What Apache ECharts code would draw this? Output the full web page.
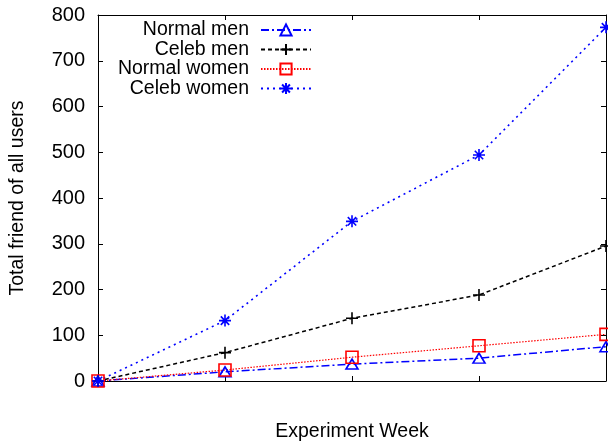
<!DOCTYPE html>
<html>
<head>
<meta charset="utf-8">
<script src="https://cdn.jsdelivr.net/npm/echarts@6/dist/echarts.min.js"></script>
<style>html,body{margin:0;padding:0;background:#fff}#c{width:608px;height:443px}</style>
</head>
<body>
<div id="c"></div>
<script>
var weeks = [0, 1, 2, 3, 4];
var normalMen = [0, 20, 37, 50, 75];
var celebMen = [0, 62, 137, 188, 295];
var normalWomen = [0, 24, 52, 77, 102];
var celebWomen = [0, 132, 349, 494, 773];
var yTicks = [0, 100, 200, 300, 400, 500, 600, 700, 800];

function pairs(vals) { return weeks.map(function (w, i) { return [w, vals[i]]; }); }

var FONT = 'Liberation Sans, Arial, Helvetica, sans-serif';
var BLUE = '#0000ff', RED = '#ff0000', BLACK = '#000000';
var PLUS = 'path://M0,5L10,5M5,0L5,10';
var STAR = 'path://M0,5L10,5M5,0L5,10M1.5,1.5L8.5,8.5M8.5,1.5L1.5,8.5';

var names = ['Normal men', 'Celeb men', 'Normal women', 'Celeb women'];
var legendCenters = [30, 49.5, 69, 88.5];

var chart = echarts.init(document.getElementById('c'), null, {renderer: 'canvas'});

function axisCommon(extra) {
  var base = {
    axisLine: {show: true, onZero: false, lineStyle: {color: BLACK, width: 1}},
    axisTick: {show: true, inside: true, length: 5, lineStyle: {color: BLACK, width: 1}},
    splitLine: {show: false}
  };
  for (var k in extra) base[k] = extra[k];
  return base;
}

var option = {
  animation: false,
  backgroundColor: '#fff',
  textStyle: {fontFamily: FONT},
  grid: {left: 98, right: 2, top: 15, bottom: 62, containLabel: false, outerBoundsMode: 'none'},
  legend: names.map(function (n, i) {
    return {
      data: [n], orient: 'vertical', align: 'right', right: 296, top: legendCenters[i] - 10,
      padding: 0, itemWidth: 50, itemHeight: 14, selectedMode: false,
      textStyle: {fontFamily: FONT, fontSize: 19.5, color: BLACK, padding: [0, 7, 0, 0], lineHeight: 20}
    };
  }),
  xAxis: [
    axisCommon({type: 'value', min: 0, max: 4, interval: 1, position: 'bottom',
      axisLabel: {show: false},
      name: 'Experiment Week', nameLocation: 'middle', nameGap: 41,
      nameTextStyle: {fontFamily: FONT, fontSize: 19.5, color: BLACK}}),
    axisCommon({type: 'value', min: 0, max: 4, interval: 1, position: 'top', axisLabel: {show: false}})
  ],
  yAxis: [
    axisCommon({type: 'value', min: yTicks[0], max: yTicks[yTicks.length - 1], interval: 100, position: 'left',
      axisLabel: {show: true, margin: 13, fontFamily: FONT, fontSize: 20, color: BLACK},
      name: 'Total friend of all users', nameLocation: 'middle', nameGap: 70,
      nameTextStyle: {fontFamily: FONT, fontSize: 19.5, color: BLACK}}),
    axisCommon({type: 'value', min: yTicks[0], max: yTicks[yTicks.length - 1], interval: 100, position: 'right',
      axisLabel: {show: false}})
  ],
  series: [
    {
      name: names[0], type: 'line', data: pairs(normalMen),
      symbol: 'triangle', symbolSize: [12, 10],
      itemStyle: {color: 'rgba(255,255,255,0)', borderColor: BLUE, borderWidth: 1.6},
      lineStyle: {color: BLUE, width: 1.5, type: [8, 3, 2, 3]}
    },
    {
      name: names[1], type: 'line', data: pairs(celebMen),
      symbol: PLUS, symbolSize: 12,
      itemStyle: {color: BLACK, borderColor: BLACK, borderWidth: 1.6},
      lineStyle: {color: BLACK, width: 1.5, type: [4, 3]}
    },
    {
      name: names[2], type: 'line', data: pairs(normalWomen),
      symbol: 'rect', symbolSize: 12,
      itemStyle: {color: 'rgba(255,255,255,0)', borderColor: RED, borderWidth: 1.6},
      lineStyle: {color: RED, width: 1.2, type: [1.5, 1.5]}
    },
    {
      name: names[3], type: 'line', data: pairs(celebWomen),
      symbol: STAR, symbolSize: 12,
      itemStyle: {color: BLUE, borderColor: BLUE, borderWidth: 1.6},
      lineStyle: {color: BLUE, width: 1.6, type: [2, 4]}
    }
  ]
};
chart.setOption(option);
</script>
</body>
</html>
